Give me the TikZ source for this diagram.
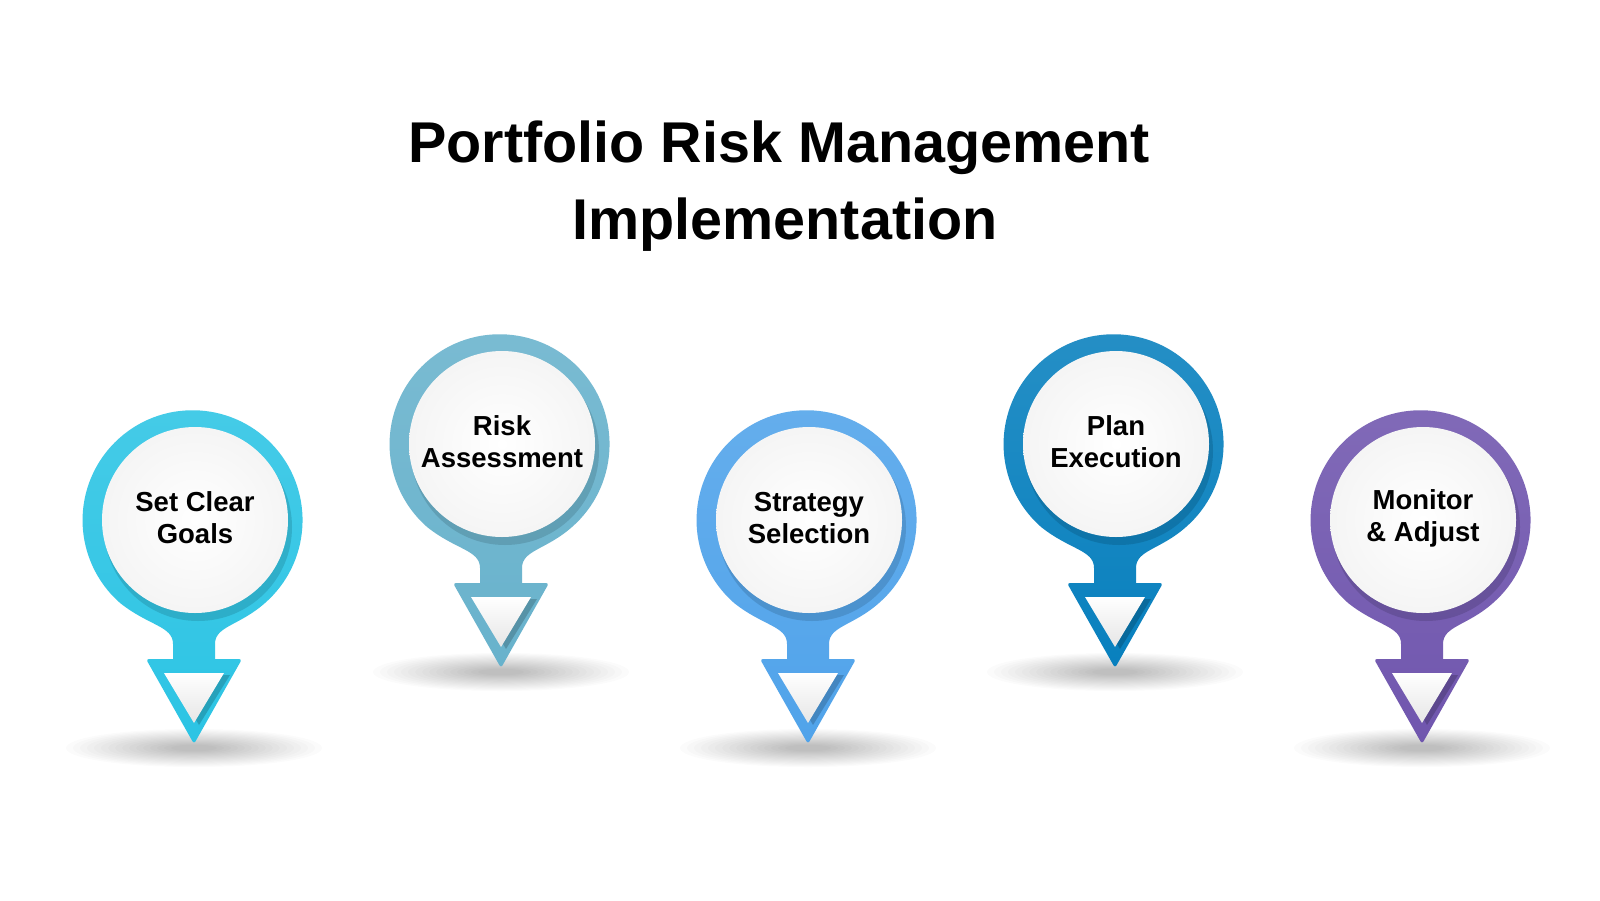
\documentclass[tikz,border=0pt]{standalone}
\usepackage{fontspec}
\setmainfont{Liberation Sans}
\definecolor{cA}{RGB}{44,196,228}
\definecolor{cB}{RGB}{104,178,204}
\definecolor{cC}{RGB}{80,163,234}
\definecolor{cD}{RGB}{8,128,190}
\definecolor{cE}{RGB}{112,86,174}
\tikzset{
  titletext/.style={font=\fontsize{57.5}{77}\selectfont\bfseries, text=black, inner sep=0pt, anchor=base},
  pintext/.style={font=\fontsize{27.5}{32}\selectfont\bfseries, text=black, align=center, inner sep=0pt},
}
\newcommand\drawpin[5]{% name, cx, cy, color, text
\begin{scope}[shift={(#2,#3)}]
  % ground shadow (soft, stacked ellipses)
  \foreach \k in {0,...,15}
    \fill[black, opacity=0.017] (0,226) ellipse [x radius={128-7*\k}, y radius={19-1.05*\k}];
  % pin body
  \shade[top color=#4!88!white, bottom color=#4]
    (71,81) arc[start angle=48.8, end angle=-228.8, radius=110]
    .. controls (-45,104) and (-21,104) .. (-21,122) -- (-21,137)
    [rounded corners=3] -- (-48,137) -- (0,222) -- (48,137) [sharp corners] -- (21,137) -- (21,122)
    .. controls (21,104) and (45,104) .. (71,81) -- cycle;
  % disc shadow
  \fill[#4!60!black, opacity=0.30] (4,5) circle [radius=94];
  % white disc
  \shade[inner color=white, outer color=black!4] (1,-2) circle [radius=93];
  % inner triangle shadow
  \fill[#4!60!black, opacity=0.45] (-24,153) -- (36,153) -- (5,203) -- cycle;
  % inner white triangle
  \shade[top color=white, bottom color=black!10] (-30,151) -- (30,151) -- (0,201) -- cycle;
  % label
  \node[pintext] (#1) at (1,-4) {#5};
\end{scope}}
\begin{document}
\begin{tikzpicture}[x=1pt, y=-1pt]
  \useasboundingbox (0,0) rectangle (1600,900);
  \fill[white] (0,0) rectangle (1600,900);
  \node[titletext] (title1) at (779,162) {Portfolio Risk Management};
  \node[titletext] (title2) at (785,239) {Implementation};
  \drawpin{p1}{194}{522}{cA}{Set Clear\\Goals}
  \drawpin{p2}{501}{446}{cB}{Risk\\Assessment}
  \drawpin{p3}{808}{522}{cC}{Strategy\\Selection}
  \drawpin{p4}{1115}{446}{cD}{Plan\\Execution}
  \drawpin{p5}{1422}{522}{cE}{Monitor\\\& Adjust}
\end{tikzpicture}
\end{document}
